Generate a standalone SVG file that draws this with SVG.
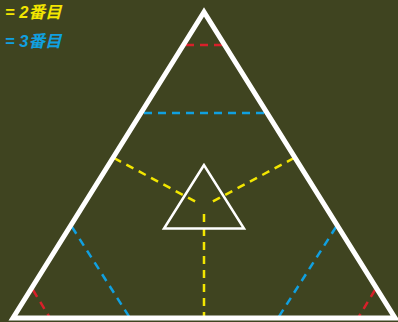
<svg xmlns="http://www.w3.org/2000/svg" width="398" height="322" viewBox="0 0 398 322">
<style>
.bg{fill:#3f4420}
.tri{fill:none;stroke:#ffffff;stroke-linejoin:miter}
.d{fill:none;stroke-width:2.5;stroke-dasharray:8 6}
.r{stroke:#d8202a}
.b{stroke:#10a0e0}
.y{stroke:#f2e600}
.t{font-family:"Liberation Sans","Noto Sans CJK JP",sans-serif;font-size:16.5px;font-style:italic;font-weight:bold}
</style>
<rect class="bg" x="0" y="0" width="398" height="322"/>
<g id="legend">
<text class="t" x="5" y="18" fill="#f2e600">= 2番目</text>
<text class="t" x="5" y="47" fill="#10a0e0">= 3番目</text>
</g>
<g id="connectors">
<line class="d r" x1="186" y1="45" x2="222" y2="45"/>
<line class="d b" x1="144" y1="113" x2="264" y2="113"/>
<line class="d y" x1="114" y1="158" x2="198" y2="203"/>
<line class="d y" x1="294" y1="158" x2="210" y2="203"/>
<line class="d y" x1="204" y1="214" x2="204" y2="318"/>
<line class="d b" x1="72" y1="227" x2="130" y2="318"/>
<line class="d b" x1="336" y1="227" x2="278" y2="318"/>
<line class="d r" x1="33" y1="290" x2="50" y2="318"/>
<line class="d r" x1="375" y1="290" x2="358" y2="318"/>
</g>
<g id="outer">
<polygon class="tri" stroke-width="5" points="204,12 13,318 395,318"/>
</g>
<g id="inner">
<polygon class="tri" stroke-width="2.5" points="204,165 164,228.5 244,228.5"/>
</g>
</svg>
